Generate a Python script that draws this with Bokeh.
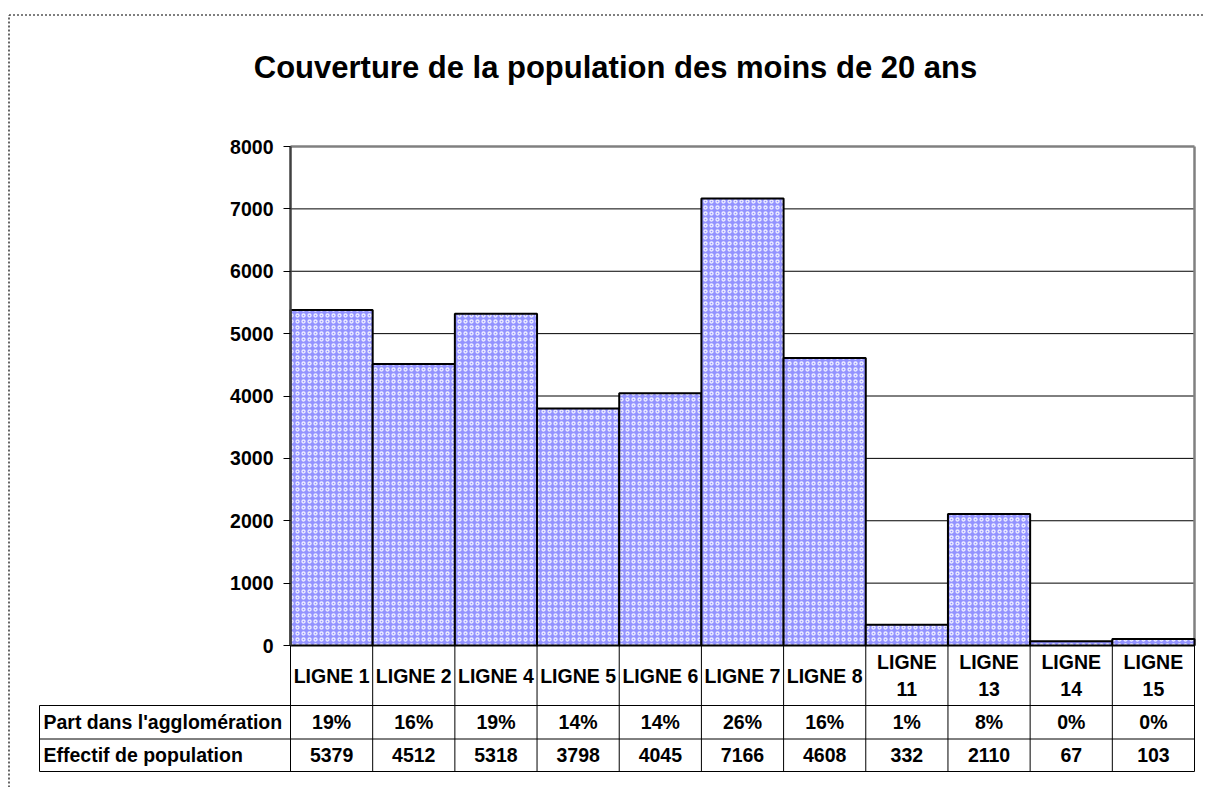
from bokeh.plotting import figure
from bokeh.models import Range1d, LinearAxis, FixedTicker, ColumnDataSource
from bokeh.core.properties import value
from bokeh.embed import file_html
from bokeh.resources import INLINE

# ---------------- data ----------------
categories = ["LIGNE 1", "LIGNE 2", "LIGNE 4", "LIGNE 5", "LIGNE 6", "LIGNE 7",
              "LIGNE 8", "LIGNE 11", "LIGNE 13", "LIGNE 14", "LIGNE 15"]
effectif = [5379, 4512, 5318, 3798, 4045, 7166, 4608, 332, 2110, 67, 103]
part = ["19%", "16%", "19%", "14%", "14%", "26%", "16%", "1%", "8%", "0%", "0%"]
row_labels = ["Part dans l'agglomération", "Effectif de population"]
y_ticks = [0, 1000, 2000, 3000, 4000, 5000, 6000, 7000, 8000]
title_text = "Couverture de la population des moins de 20 ans"

# ---------------- layout constants (picture pixels) ----------------
W, H = 1203, 787
FIG_X0, FIG_Y0 = 0, 0
PA_LEFT, PA_RIGHT, PA_TOP, PA_BOTTOM = 290, 1194, 146, 645
N = len(categories)
CAT_W = (PA_RIGHT - PA_LEFT) / N
YMAX = 8000
PXU = YMAX / (PA_BOTTOM - PA_TOP)

def px_x(px):
    return (px - PA_LEFT) / CAT_W

def px_y(py):
    return (PA_BOTTOM - py) * PXU

x0 = px_x(FIG_X0)
x1 = x0 + W / CAT_W
y1 = px_y(FIG_Y0)
y0 = y1 - H * PXU

FONT = "Liberation Sans"
FS = "19.5px"

p = figure(width=W, height=H, x_range=Range1d(x0, x1), y_range=Range1d(y0, y1),
           output_backend="svg", toolbar_location=None,
           x_axis_location=None, y_axis_location=None, min_border=0)
p.outline_line_color = None
p.xgrid.visible = False
p.ygrid.visible = False
p.background_fill_color = "white"
p.border_fill_color = "white"

# dotted outer border (left & top)
p.segment(x0=[px_x(8.5), px_x(8.5)], y0=[y0, px_y(14.5)],
          x1=[px_x(8.5), x1], y1=[px_y(14.5), px_y(14.5)],
          line_color="black", line_width=1.2, line_dash="2 2")

# title
p.text(x=[px_x(615)], y=[px_y(67)], text=[title_text], text_font=value(FONT),
       text_font_style="bold", text_font_size="31px", text_align="center",
       text_baseline="middle", text_color="black")

# gridlines
grid_y = [t for t in y_ticks if 0 < t < YMAX]
p.segment(x0=[0] * len(grid_y), y0=grid_y, x1=[N] * len(grid_y), y1=grid_y,
          line_color="black", line_width=1)
# plot-area border (top and right, gray)
p.segment(x0=[0, N], y0=[YMAX, 0], x1=[N, N], y1=[YMAX, YMAX],
          line_color="#808080", line_width=2.5)

# bars
centers = [i + 0.5 for i in range(N)]
src = ColumnDataSource(dict(x=centers, top=effectif, cat=categories))
p.vbar(x="x", top="top", bottom=0, width=1, source=src,
       fill_color="#9393ff", line_color="black", line_width=2,
       hatch_pattern="o", hatch_color="white", hatch_scale=6, hatch_weight=1.3,
       hatch_alpha=0.85)

# y axis
yax = LinearAxis(fixed_location=0, bounds=(0, YMAX),
                 ticker=FixedTicker(ticks=y_ticks))
yax.axis_line_color = "#404040"
yax.axis_line_width = 2.5
yax.major_tick_out = 7
yax.major_tick_in = 0
yax.minor_tick_line_color = None
yax.major_tick_line_color = "black"
yax.major_label_text_font = FONT
yax.major_label_text_font_style = "bold"
yax.major_label_text_font_size = FS
yax.major_label_text_color = "black"
yax.major_label_standoff = 10
p.add_layout(yax, "left")

# data table
r1_bot = px_y(705)
r2_bot = px_y(738.5)
r3_bot = px_y(771)
lab_left = px_x(39)
TL = "black"
p.segment(x0=list(range(N + 1)), y0=[0] * (N + 1), x1=list(range(N + 1)),
          y1=[r3_bot] * (N + 1), line_color=TL, line_width=1)
p.segment(x0=[0, lab_left, lab_left, lab_left], y0=[0, r1_bot, r2_bot, r3_bot],
          x1=[N, N, N, N], y1=[0, r1_bot, r2_bot, r3_bot], line_color=TL, line_width=1)
p.segment(x0=[lab_left], y0=[r1_bot], x1=[lab_left], y1=[r3_bot], line_color=TL, line_width=1)

disp = [c if len(c) <= 7 else c.replace(" ", "\n") for c in categories]
p.text(x=centers, y=[(0 + r1_bot) / 2] * N, text=disp, text_font=value(FONT),
       text_font_style="bold", text_font_size=FS, text_align="center",
       text_baseline="middle", text_line_height=1.25, text_color="black")
p.text(x=centers, y=[(r1_bot + r2_bot) / 2] * N, text=part, text_font=value(FONT),
       text_font_style="bold", text_font_size=FS, text_align="center",
       text_baseline="middle", text_color="black")
p.text(x=centers, y=[(r2_bot + r3_bot) / 2] * N, text=[str(v) for v in effectif],
       text_font=value(FONT), text_font_style="bold", text_font_size=FS,
       text_align="center", text_baseline="middle", text_color="black")
p.text(x=[px_x(43)] * 2, y=[(r1_bot + r2_bot) / 2, (r2_bot + r3_bot) / 2],
       text=row_labels, text_font=value(FONT), text_font_style="bold",
       text_font_size=FS, text_align="left", text_baseline="middle",
       text_color="black")

open("out.html", "w").write(file_html(p, INLINE))
